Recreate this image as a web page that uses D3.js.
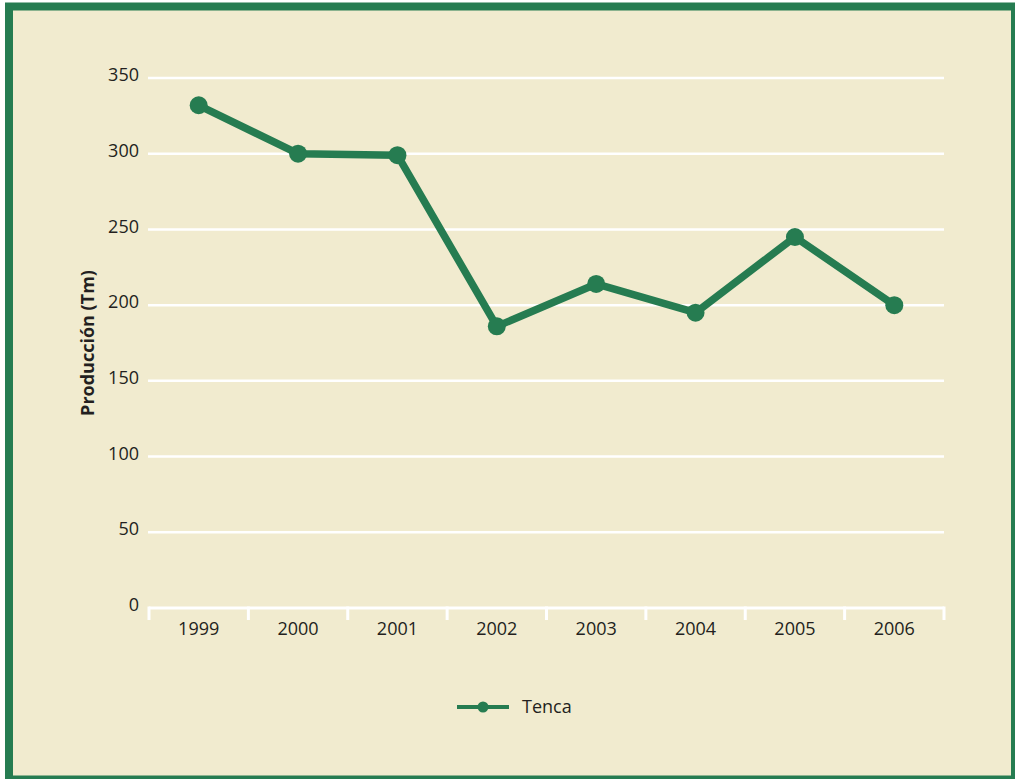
<!DOCTYPE html>
<html><head><meta charset="utf-8">
<script src="https://cdn.jsdelivr.net/npm/d3@7"></script>
<style>html,body{margin:0;padding:0;background:#fff;}svg{display:block;}</style>
</head><body>
<script>
const years = ["1999","2000","2001","2002","2003","2004","2005","2006"];
const tenca = [332, 300, 299, 186, 214, 195, 245, 200];
const yTicks = [0, 50, 100, 150, 200, 250, 300, 350];
const seriesName = "Tenca";
const yTitle = "Producción (Tm)";

(function () {
const W = 1015, H = 779;
const green = "#267c51", bg = "#f1ebcf", textCol = "#231f20";
const font = "'Open Sans', 'Noto Sans', sans-serif";
const svg = d3.select("body").append("svg").attr("width", W).attr("height", H);
svg.append("rect").attr("width", W).attr("height", H).attr("fill", "#fff");
svg.append("rect").attr("x", 9).attr("y", 6.5).attr("width", 1006).attr("height", 773)
  .attr("fill", bg).attr("stroke", green).attr("stroke-width", 8);

const pL = 149, pR = 944, pT = 78, pB = 608;
const x = d3.scaleBand().domain(years).range([pL, pR]);
const y = d3.scaleLinear().domain([0, 350]).range([pB, pT]);

const g = svg.append("g");
g.selectAll(".grid").data(yTicks.filter(d => d > 0)).join("line")
  .attr("x1", pL - 1).attr("x2", pR).attr("y1", d => y(d)).attr("y2", d => y(d))
  .attr("stroke", "#fff").attr("stroke-width", 2.5);

const yAxis = d3.axisLeft(y).tickValues(yTicks).tickSize(0).tickPadding(10);
const ya = g.append("g").attr("transform", `translate(${pL},0)`).call(yAxis);
ya.select(".domain").remove();
ya.selectAll("text").attr("font-family", font).attr("font-size", 18).attr("fill", textCol).attr("dy", "0.15em");

const xAxis = d3.axisBottom(x).tickSize(0).tickPadding(12);
const xa = g.append("g").attr("transform", `translate(0,${pB})`).call(xAxis);
xa.select(".domain").remove();
xa.selectAll("text").attr("font-family", font).attr("font-size", 18).attr("fill", textCol).attr("dy", "0.85em");
g.append("line").attr("x1", pL).attr("x2", pR).attr("y1", pB).attr("y2", pB)
  .attr("stroke", "#fff").attr("stroke-width", 3);
const edges = years.map(d => x(d)).concat([pR]);
g.selectAll(".xt").data(edges).join("line")
  .attr("x1", d => d).attr("x2", d => d).attr("y1", pB - 1.5).attr("y2", pB + 12)
  .attr("stroke", "#fff").attr("stroke-width", 3);

g.append("text").attr("transform", `translate(94,${(pT + pB) / 2}) rotate(-90)`)
  .attr("text-anchor", "middle").attr("font-family", font).attr("font-weight", "bold")
  .attr("font-size", 18).attr("fill", textCol).text(yTitle);

const cx = d => x(d) + x.bandwidth() / 2;
const line = d3.line().x((d, i) => cx(years[i])).y(d => y(d));
g.append("path").datum(tenca).attr("d", line).attr("fill", "none")
  .attr("stroke", green).attr("stroke-width", 7.5).attr("stroke-linejoin", "round");
g.selectAll(".pt").data(tenca).join("circle")
  .attr("cx", (d, i) => cx(years[i])).attr("cy", d => y(d)).attr("r", 9).attr("fill", green);

const lg = svg.append("g").attr("transform", "translate(457,707)");
lg.append("line").attr("x1", 0).attr("x2", 52).attr("y1", 0).attr("y2", 0).attr("stroke", green).attr("stroke-width", 4);
lg.append("circle").attr("cx", 26).attr("cy", 0).attr("r", 5.5).attr("fill", green);
lg.append("text").attr("x", 65).attr("y", 0).attr("dy", "0.35em").attr("font-family", font)
  .attr("font-size", 18).attr("fill", textCol).text(seriesName);
})();
</script>
</body></html>
